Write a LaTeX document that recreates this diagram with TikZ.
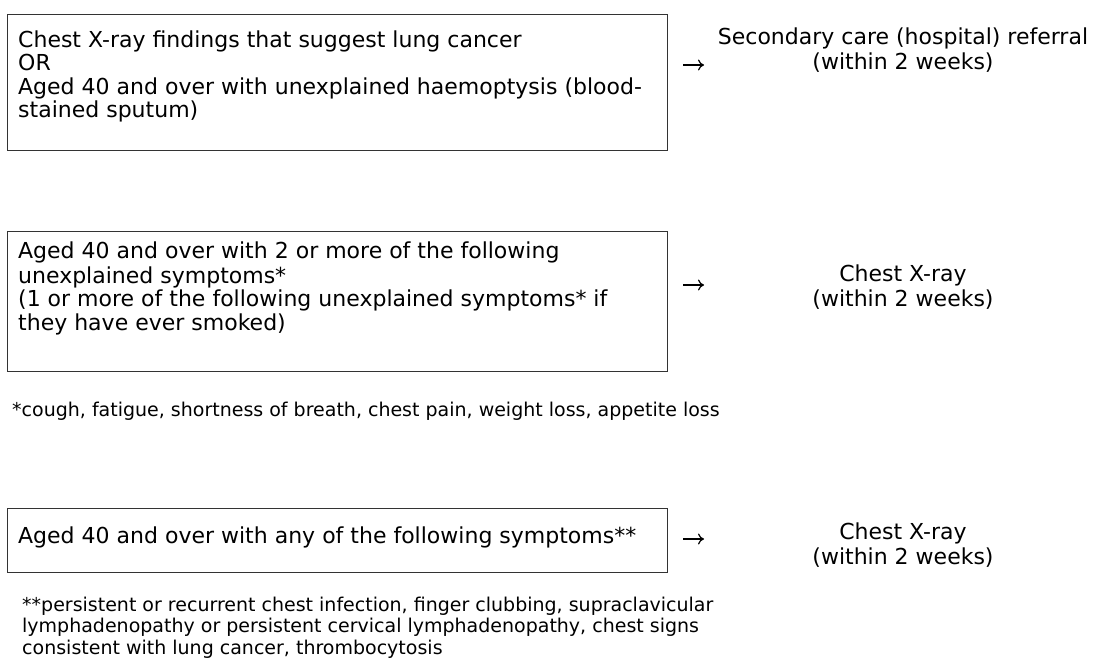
\documentclass[tikz,border=0pt]{standalone}
\usepackage{fontspec}
\setmainfont{DejaVu Sans}
\usetikzlibrary{arrows.meta}
\begin{document}
\begin{tikzpicture}[x=1pt,y=1pt,
 boxst/.style={draw=black!80, line width=1.3pt, rectangle, inner sep=0pt, anchor=north west},
 maintxt/.style={font=\fontsize{22}{23.5}\selectfont, align=left, anchor=north west, inner sep=0pt},
 restxt/.style={font=\fontsize{22}{23.5}\selectfont, align=center, anchor=north, inner sep=0pt},
 notetxt/.style={font=\fontsize{19}{21.5}\selectfont, align=left, anchor=north west, inner sep=0pt},
 arr/.style={-{To[length=6pt,width=11pt]}, line width=1.2pt}]
\useasboundingbox (0,0) rectangle (1093,-662);
% boxes
\node[boxst, minimum width=660pt, minimum height=136pt] (b1) at (7,-14) {};
\node[boxst, minimum width=660pt, minimum height=140pt] (b2) at (7,-231) {};
\node[boxst, minimum width=660pt, minimum height=64pt] (b3) at (7,-508) {};
% box texts (strut height 16.45)
\node[maintxt] (t1) at (18,-30.55) {\strut Chest X-ray findings that suggest lung cancer\\OR\\Aged 40 and over with unexplained haemoptysis (blood-\\stained sputum)};
\node[maintxt] (t2) at (18,-241.55) {\strut Aged 40 and over with 2 or more of the following\\unexplained symptoms*\\(1 or more of the following unexplained symptoms* if\\they have ever smoked)};
\node[maintxt] (t3) at (18,-526.55) {\strut Aged 40 and over with any of the following symptoms**};
% results
\node[restxt] (r1) at (903,-27.55) {\strut Secondary care (hospital) referral\\(within 2 weeks)};
\node[restxt] (r2) at (903,-264.55) {\strut Chest X-ray\\(within 2 weeks)};
\node[restxt] (r3) at (903,-522.55) {\strut Chest X-ray\\(within 2 weeks)};
% arrows
\coordinate (a1) at (683,-65);
\coordinate (a2) at (683,-285);
\coordinate (a3) at (683,-539);
\draw[arr] (a1) -- ++(21,0);
\draw[arr] (a2) -- ++(21,0);
\draw[arr] (a3) -- ++(21,0);
% footnotes
\node[notetxt] (n1) at (12,-400.95) {\strut *cough, fatigue, shortness of breath, chest pain, weight loss, appetite loss};
\node[notetxt] (n2) at (22,-595.95) {\strut **persistent or recurrent chest infection, finger clubbing, supraclavicular\\lymphadenopathy or persistent cervical lymphadenopathy, chest signs\\consistent with lung cancer, thrombocytosis};
\end{tikzpicture}
\end{document}
